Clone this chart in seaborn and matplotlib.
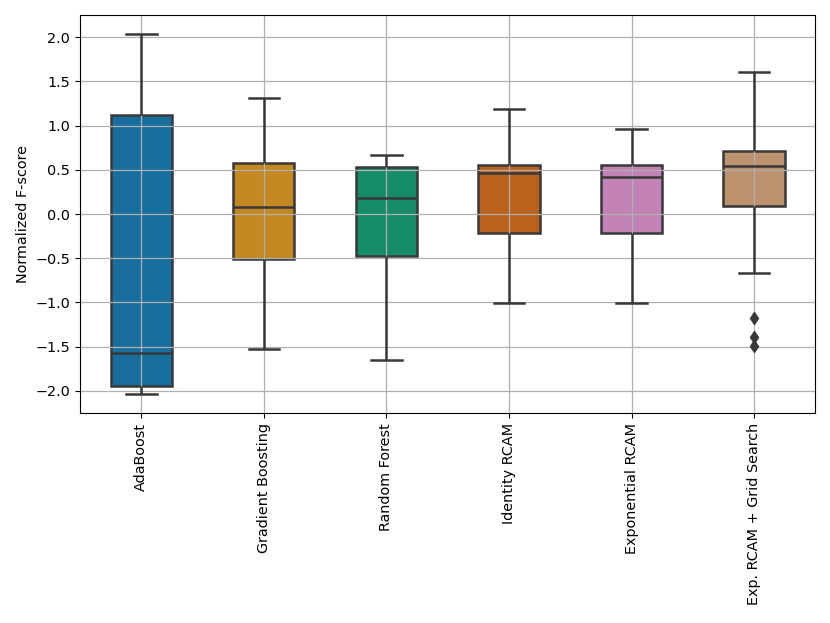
import numpy as np
import pandas as pd
import seaborn as sns
import matplotlib.pyplot as plt

# box statistics (whisker low, q1, median, q3, whisker high)
methods = ['AdaBoost', 'Gradient Boosting', 'Random Forest',
           'Identity RCAM', 'Exponential RCAM', 'Exp. RCAM + Grid Search']
whisker_low = [-2.04, -1.53, -1.65, -1.01, -1.01, -0.67]
q1 = [-1.94, -0.51, -0.48, -0.21, -0.21, 0.09]
median = [-1.57, 0.075, 0.18, 0.46, 0.42, 0.54]
q3 = [1.12, 0.574, 0.53, 0.55, 0.55, 0.715]
whisker_high = [2.04, 1.31, 0.67, 1.19, 0.965, 1.60]
outliers = [[], [], [], [], [], [-1.17, -1.385, -1.49]]

# build samples so that the quartiles land on the read values:
# 17 sorted points -> q1 at idx 4, median at idx 8, q3 at idx 12
rows = []
for i, m in enumerate(methods):
    vals = list(outliers[i])
    vals += [whisker_low[i]] * (4 - len(outliers[i]))
    vals += [q1[i]] * 4 + [median[i]] + [q3[i]] * 4
    vals += [q3[i]] * 3 + [whisker_high[i]]
    rows += [(m, v) for v in vals]
df = pd.DataFrame(rows, columns=['method', 'score'])

plt.rcParams['font.family'] = ['DejaVu Sans']
plt.rcParams['font.size'] = 10.4

fig = plt.figure(figsize=(8.3, 6.23), dpi=100)
ax = fig.add_axes([0.0964, 0.337, 0.886, 0.639])

sns.boxplot(data=df, x='method', y='score', hue='method', palette='colorblind',
            width=0.5, linewidth=1.8, linecolor='#383838', saturation=0.75,
            flierprops=dict(marker='d', markersize=6, markerfacecolor='#383838',
                            markeredgecolor='#383838'),
            legend=False, ax=ax)

ax.grid(True, color='#b0b0b0', linewidth=0.9)
# grid over the box fills, under the whiskers
for p in ax.patches:
    p.set_zorder(1)
for l in ax.get_xgridlines() + ax.get_ygridlines():
    l.set_zorder(1.5)
for l in ax.lines:
    l.set_zorder(2.5)

ax.set_yticks([-2.0, -1.5, -1.0, -0.5, 0.0, 0.5, 1.0, 1.5, 2.0])
ax.set_ylim(-2.25, 2.25)
ax.set_xlabel('')
ax.set_ylabel('Normalized F-score')
ax.tick_params(axis='x', labelrotation=90)

plt.savefig('out.png', dpi=100)
